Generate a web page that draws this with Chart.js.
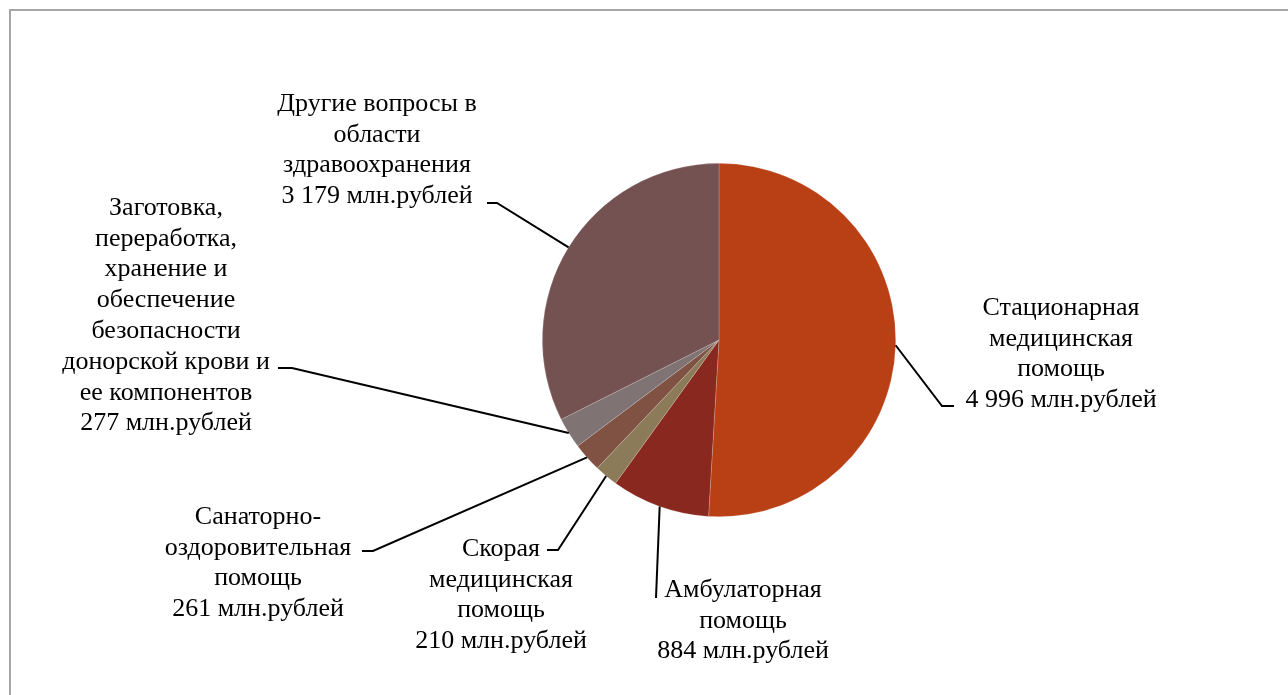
<!DOCTYPE html>
<html>
<head>
<meta charset="utf-8">
<script src="https://cdn.jsdelivr.net/npm/chart.js@4/dist/chart.umd.min.js"></script>
<style>
  html, body { margin: 0; padding: 0; background: #fff; }
  #wrap { position: relative; width: 1288px; height: 695px; }
  #frame { position: absolute; left: 9px; top: 9px; width: 1300px; height: 700px;
           border-left: 2px solid #a6a6a6; border-top: 2px solid #a6a6a6; }
  canvas { position: absolute; left: 0; top: 0; }
</style>
</head>
<body>
<div id="wrap">
  <div id="frame"></div>
  <canvas id="pieChart" width="1288" height="695"></canvas>
</div>
<script>
const categories = [
  'Стационарная\nмедицинская\nпомощь',
  'Амбулаторная\nпомощь',
  'Скорая\nмедицинская\nпомощь',
  'Санаторно-\nоздоровительная\nпомощь',
  'Заготовка,\nпереработка,\nхранение и\nобеспечение\nбезопасности\nдонорской крови и\nее компонентов',
  'Другие вопросы в\nобласти\nздравоохранения'
];
const values = [4996, 884, 210, 261, 277, 3179];
const unit = 'млн.рублей';
const colors = ['#b93f15', '#89281e', '#8c7b59', '#7f5244', '#7f7374', '#755252'];

// label block centre x, first line centre y, leader bend points (after the arc point)
const labelLayout = [
  {x: 1061, y: 308, bend: [[942, 406], [954, 406]]},
  {x: 743, y: 590, bend: [[656, 598]]},
  {x: 501, y: 549, bend: [[558, 550], [547, 550]]},
  {x: 258, y: 517, bend: [[373, 551], [362, 551]]},
  {x: 166, y: 208, bend: [[292, 368], [278, 368]]},
  {x: 377, y: 104, bend: [[497, 203], [487, 203]]}
];

function fmt(v) {
  return String(v).replace(/\B(?=(\d{3})+(?!\d))/g, ' ');
}

const outsideLabels = {
  id: 'outsideLabels',
  afterDatasetsDraw(chart) {
    const ctx = chart.ctx;
    const arcs = chart.getDatasetMeta(0).data;
    ctx.save();
    ctx.strokeStyle = '#000';
    ctx.lineWidth = 2;
    ctx.fillStyle = '#000';
    ctx.font = '26px "Liberation Serif", "Times New Roman", serif';
    ctx.textAlign = 'center';
    ctx.textBaseline = 'middle';
    arcs.forEach((arc, i) => {
      const p = arc.getProps(['x', 'y', 'startAngle', 'endAngle', 'outerRadius'], true);
      const mid = (p.startAngle + p.endAngle) / 2;
      const lay = labelLayout[i];
      ctx.beginPath();
      ctx.moveTo(p.x + Math.cos(mid) * p.outerRadius, p.y + Math.sin(mid) * p.outerRadius);
      lay.bend.forEach(pt => ctx.lineTo(pt[0], pt[1]));
      ctx.stroke();
      const lines = categories[i].split('\n').concat([fmt(values[i]) + ' ' + unit]);
      lines.forEach((t, k) => ctx.fillText(t, lay.x, lay.y + k * 30.8));
    });
    ctx.restore();
  }
};

new Chart(document.getElementById('pieChart').getContext('2d'), {
  type: 'pie',
  data: {
    labels: categories,
    datasets: [{
      data: values,
      backgroundColor: colors,
      borderColor: 'rgba(255,255,255,0.3)',
      borderWidth: 0.6
    }]
  },
  options: {
    responsive: false,
    animation: false,
    layout: { padding: { left: 542, right: 392, top: 163, bottom: 178 } },
    plugins: { legend: { display: false }, tooltip: { enabled: false } }
  },
  plugins: [outsideLabels]
});
</script>
</body>
</html>
